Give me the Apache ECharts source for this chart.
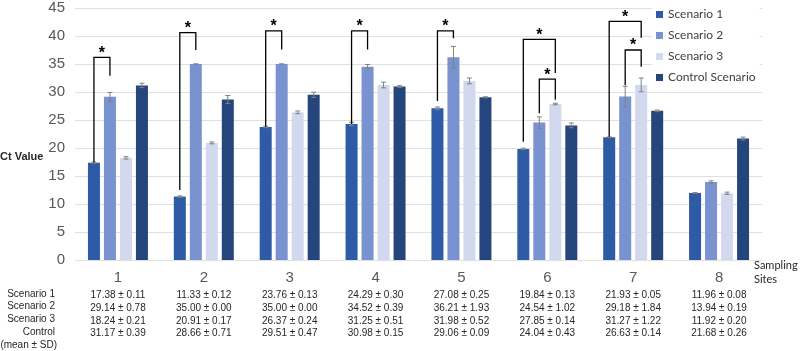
<!DOCTYPE html>
<html>
<head>
    <meta charset="UTF-8">
    <title></title>
    <script src="https://cdn.jsdelivr.net/npm/echarts@6/dist/echarts.min.js"></script>
    <style>
        * { padding: 0; margin: 0; }
        body { background: #fff; }
        #chart { width: 800px; height: 351px; }
    </style>
</head>
<body>
    <div id="chart"></div>
<script>
    // sampling sites and Ct values (mean, SD) per scenario
    var sites = ['1', '2', '3', '4', '5', '6', '7', '8'];
    var seriesNames = ['Scenario 1', 'Scenario 2', 'Scenario 3', 'Control Scenario'];
    var s1Mean = [17.38, 11.33, 23.76, 24.29, 27.08, 19.84, 21.93, 11.96];
    var s1Sd = [0.11, 0.12, 0.13, 0.30, 0.25, 0.13, 0.05, 0.08];
    var s2Mean = [29.14, 35.00, 35.00, 34.52, 36.21, 24.54, 29.18, 13.94];
    var s2Sd = [0.78, 0.00, 0.00, 0.39, 1.93, 1.02, 1.84, 0.19];
    var s3Mean = [18.24, 20.91, 26.37, 31.25, 31.98, 27.85, 31.27, 11.92];
    var s3Sd = [0.21, 0.17, 0.24, 0.51, 0.52, 0.14, 1.22, 0.20];
    var ctrlMean = [31.17, 28.66, 29.51, 30.98, 29.06, 24.04, 26.63, 21.68];
    var ctrlSd = [0.39, 0.71, 0.47, 0.15, 0.09, 0.43, 0.14, 0.26];
    var rowLabels = ['Scenario 1', 'Scenario 2', 'Scenario 3', 'Control', '(mean ± SD)'];

    // significance brackets: [site index, from bar, to bar, left leg end, top, right leg end]
    var brackets = [
        [0, 0, 1, 17.4, 36.2, 32.9],
        [1, 0, 1, 12.5, 40.6, 37.5],
        [2, 0, 1, 23.8, 40.9, 37.6],
        [3, 0, 1, 24.3, 40.9, 37.6],
        [4, 0, 1, 28.4, 40.9, 39.6],
        [5, 0, 2, 21.1, 39.4, 33.4],
        [5, 1, 2, 26.2, 32.3, 28.6],
        [6, 0, 2, 22.0, 42.6, 39.7],
        [6, 1, 2, 31.2, 37.5, 34.5]
    ];

    var colors = ['#2e5ba5', '#7893cf', '#d2d8ee', '#25467c'];
    var means = [s1Mean, s2Mean, s3Mean, ctrlMean];
    var sds = [s1Sd, s2Sd, s3Sd, ctrlSd];
    var BAR_W = 12, BAR_STEP = 16;

    function barOffset(i) { return (i - 1.5) * BAR_STEP; }

    function fmt(v) { return v.toFixed(2); }

    var myChart = echarts.init(document.getElementById('chart'));

    var series = [];
    seriesNames.forEach(function (name, i) {
        series.push({
            name: name,
            type: 'bar',
            barWidth: BAR_W,
            barGap: '33.3%',
            itemStyle: { color: colors[i] },
            data: means[i]
        });
    });
    // error bars
    seriesNames.forEach(function (name, i) {
        series.push({
            name: name + ' err',
            type: 'custom',
            z: 5,
            silent: true,
            data: means[i].map(function (m, k) { return [k, m, sds[i][k]]; }),
            renderItem: function (params, api) {
                var m = api.value(1), sd = api.value(2);
                var lo = api.coord([api.value(0), m - sd]);
                var hi = api.coord([api.value(0), m + sd]);
                var x = lo[0] + barOffset(i);
                var st = { stroke: '#808080', lineWidth: 1 };
                return {
                    type: 'group',
                    children: [
                        { type: 'line', shape: { x1: x, y1: lo[1], x2: x, y2: hi[1] }, style: st },
                        { type: 'line', shape: { x1: x - 2.5, y1: lo[1], x2: x + 2.5, y2: lo[1] }, style: st },
                        { type: 'line', shape: { x1: x - 2.5, y1: hi[1], x2: x + 2.5, y2: hi[1] }, style: st }
                    ]
                };
            }
        });
    });
    // brackets with asterisks
    series.push({
        name: 'sig',
        type: 'custom',
        z: 6,
        silent: true,
        data: brackets,
        renderItem: function (params, api) {
            var c = api.value(0);
            var pL = api.coord([c, api.value(3)]);
            var pT = api.coord([c, api.value(4)]);
            var pR = api.coord([c, api.value(5)]);
            var xL = pL[0] + barOffset(api.value(1));
            var xR = pL[0] + barOffset(api.value(2));
            return {
                type: 'group',
                children: [
                    {
                        type: 'polyline',
                        shape: { points: [[xL, pL[1]], [xL, pT[1]], [xR, pT[1]], [xR, pR[1]]] },
                        style: { stroke: '#000', lineWidth: 1.3, fill: null }
                    },
                    {
                        type: 'text',
                        x: (xL + xR) / 2,
                        y: pT[1] - 4,
                        style: {
                            text: '*', fill: '#000', align: 'center', verticalAlign: 'middle',
                            font: 'bold 16px "Liberation Sans", Arial'
                        }
                    }
                ]
            };
        }
    });

    // row labels of the table under the axis
    var graphics = [
        {
            type: 'text', x: 0, y: 151,
            style: { text: 'Ct Value', font: 'bold 11px "Liberation Sans", Arial', fill: '#262626' }
        },
        {
            type: 'text', x: 754, y: 258,
            style: { text: 'Sampling\nSites', font: '11px Lato', lineHeight: 14, fill: '#262626' }
        }
    ];
    rowLabels.forEach(function (t, i) {
        graphics.push({
            type: 'text', x: i == 4 ? 57 : 55, y: 294 + i * 12.7,
            style: {
                text: t, align: 'right', verticalAlign: 'middle',
                font: '10px "Liberation Sans", Arial', fill: '#262626'
            }
        });
    });

    var option = {
        animation: false,
        grid: { left: 75, right: 38, top: 8, bottom: 91 },
        legend: {
            data: seriesNames,
            orient: 'vertical',
            left: 652,
            top: 5,
            itemWidth: 7,
            itemHeight: 7,
            itemGap: 8,
            icon: 'rect',
            padding: [3, 4, 3, 4],
            backgroundColor: '#fff',
            textStyle: { fontFamily: 'Lato', fontSize: 12, lineHeight: 13, color: '#404040' }
        },
        xAxis: {
            type: 'category',
            data: sites,
            axisLine: { show: false },
            axisTick: { show: false },
            axisLabel: {
                margin: 7,
                interval: 0,
                formatter: function (val, idx) {
                    var s = '{n|' + val + '}';
                    for (var i = 0; i < 4; i++) {
                        s += '\n{t|' + fmt(means[i][idx]) + ' ± ' + fmt(sds[i][idx]) + '}';
                    }
                    return s;
                },
                rich: {
                    n: { fontFamily: 'Liberation Sans', fontSize: 15, color: '#595959', lineHeight: 22 },
                    t: { fontFamily: 'Liberation Sans', fontSize: 10, color: '#262626', lineHeight: 12.7 }
                }
            }
        },
        yAxis: {
            type: 'value',
            min: 0,
            max: 45,
            interval: 5,
            axisLine: { show: false },
            axisTick: { show: false },
            axisLabel: { margin: 10, fontFamily: 'Liberation Sans', fontSize: 15, color: '#595959' },
            splitLine: { lineStyle: { color: '#e0e0e0', width: 1 } }
        },
        graphic: graphics,
        series: series
    };

    myChart.setOption(option);
</script>
</body>
</html>
